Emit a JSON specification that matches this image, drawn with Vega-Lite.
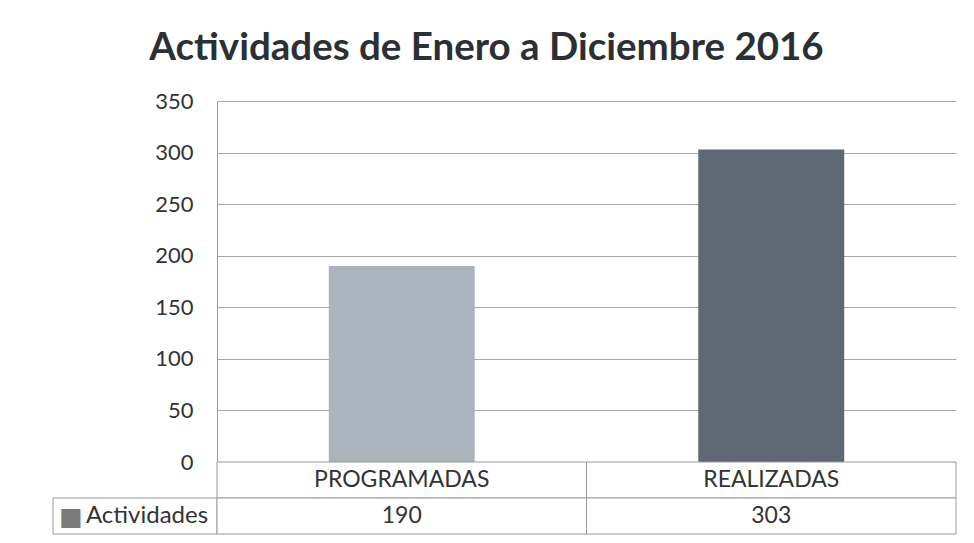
{
  "$schema": "https://vega.github.io/schema/vega-lite/v6.json",
  "padding": {"left": 52, "right": 19, "top": 28, "bottom": 9},
  "background": "white",
  "title": {
    "text": "Actividades de Enero a Diciembre 2016",
    "font": "Lato",
    "fontSize": 38.5,
    "fontWeight": "bold",
    "color": "#2b3034",
    "anchor": "middle",
    "dx": -18,
    "offset": 22
  },
  "datasets": {
    "actividades": [
      {"categoria": "PROGRAMADAS", "valor": 190},
      {"categoria": "REALIZADAS", "valor": 303}
    ],
    "serie": [{"serie": "Actividades"}]
  },
  "spacing": 0,
  "bounds": "flush",
  "columns": 2,
  "concat": [
    {
      "width": 164,
      "height": 361,
      "data": {"name": "serie"},
      "mark": {"type": "text", "opacity": 0},
      "encoding": {"text": {"value": ""}}
    },
    {
      "width": 739,
      "height": 361,
      "data": {"name": "actividades"},
      "mark": {"type": "bar"},
      "encoding": {
        "x": {
          "field": "categoria",
          "type": "nominal",
          "sort": null,
          "scale": {"paddingInner": 0.605, "paddingOuter": 0.3025},
          "axis": null
        },
        "y": {
          "field": "valor",
          "type": "quantitative",
          "scale": {"domain": [0, 350], "nice": false},
          "axis": {
            "values": [0, 50, 100, 150, 200, 250, 300, 350],
            "title": null,
            "ticks": false,
            "domain": true,
            "domainColor": "#9a9a9a",
            "grid": true,
            "gridColor": "#a8a8a8",
            "gridWidth": 1,
            "labelFont": "Lato",
            "labelFontSize": 22,
            "labelColor": "#333333",
            "labelPadding": 24
          }
        },
        "color": {
          "field": "categoria",
          "type": "nominal",
          "sort": null,
          "scale": {"range": ["#abb4bd", "#5d6873"]},
          "legend": null
        }
      }
    },
    {
      "width": 164,
      "height": 72,
      "data": {"name": "serie"},
      "layer": [
        {
          "mark": {"type": "rect", "fill": "white", "stroke": "#9a9a9a", "strokeWidth": 1},
          "encoding": {
            "y": {"datum": "val", "type": "nominal", "scale": {"domain": ["cat", "val"], "paddingInner": 0, "paddingOuter": 0}, "axis": null}
          }
        },
        {
          "mark": {"type": "text", "font": "Lato", "fontSize": 24, "color": "#333333", "dx": 12},
          "encoding": {
            "y": {"datum": "val", "type": "nominal"},
            "text": {"field": "serie"}
          }
        },
        {
          "mark": {"type": "text", "font": "DejaVu Sans", "fontSize": 25, "color": "#7a7a7a", "dx": -64, "dy": 1},
          "encoding": {
            "y": {"datum": "val", "type": "nominal"},
            "text": {"value": "■"}
          }
        }
      ]
    },
    {
      "width": 739,
      "height": 72,
      "data": {"name": "actividades"},
      "encoding": {
        "x": {
          "field": "categoria",
          "type": "nominal",
          "sort": null,
          "scale": {"paddingInner": 0, "paddingOuter": 0},
          "axis": null
        }
      },
      "layer": [
        {
          "mark": {"type": "rect", "fill": "white", "stroke": "#9a9a9a", "strokeWidth": 1},
          "encoding": {
            "y": {"datum": "cat", "type": "nominal", "scale": {"domain": ["cat", "val"], "paddingInner": 0, "paddingOuter": 0}, "axis": null}
          }
        },
        {
          "mark": {"type": "rect", "fill": "white", "stroke": "#9a9a9a", "strokeWidth": 1},
          "encoding": {
            "y": {"datum": "val", "type": "nominal"}
          }
        },
        {
          "mark": {"type": "text", "font": "Lato", "fontSize": 23, "color": "#333333"},
          "encoding": {
            "y": {"datum": "cat", "type": "nominal"},
            "text": {"field": "categoria"}
          }
        },
        {
          "mark": {"type": "text", "font": "Lato", "fontSize": 23, "color": "#333333"},
          "encoding": {
            "y": {"datum": "val", "type": "nominal"},
            "text": {"field": "valor", "type": "quantitative"}
          }
        }
      ]
    }
  ],
  "config": {
    "view": {"stroke": null}
  }
}
